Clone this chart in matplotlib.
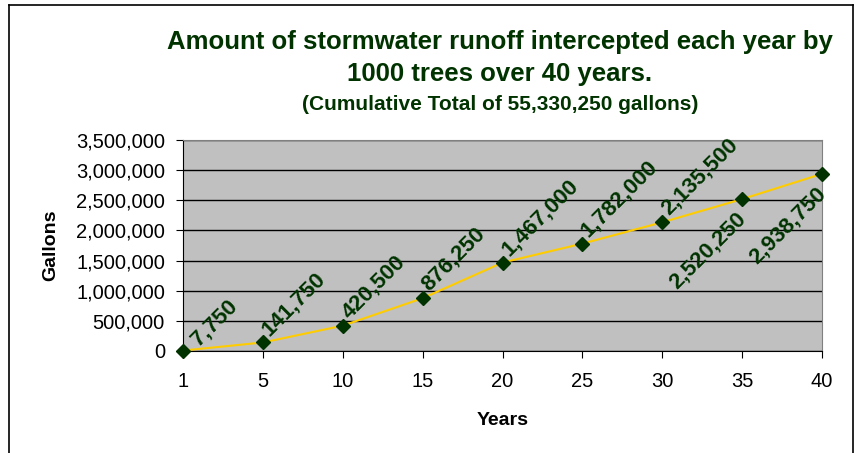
import matplotlib

matplotlib.use("Agg")
import matplotlib.pyplot as plt
from matplotlib.lines import Line2D
from matplotlib.ticker import FuncFormatter, MultipleLocator


YEARS = ["1", "5", "10", "15", "20", "25", "30", "35", "40"]
GALLONS = [7750, 141750, 420500, 876250, 1467000, 1782000, 2135500, 2520250, 2938750]
# labels drawn under the point instead of above it
BELOW = ["35", "40"]

TITLE = "Amount of stormwater runoff intercepted each year by\n1000 trees over 40 years."
SUBTITLE = "(Cumulative Total of 55,330,250 gallons)"
GREEN = "#003300"
FONT = "Liberation Sans"


def main():
    plt.rcParams["font.family"] = FONT

    fig = plt.figure(figsize=(8.59, 4.53), dpi=100)
    ax = fig.add_axes([183 / 859, 1 - 351 / 453, (822 - 183) / 859, (351 - 140) / 453])

    ax.set_facecolor("#c0c0c0")
    xs = list(range(len(YEARS)))
    ax.plot(xs, GALLONS, color="#ffcc00", lw=1.5, zorder=3)
    ax.plot(xs, GALLONS, ls="none", marker="D", ms=7, color=GREEN, zorder=4, clip_on=False)

    for x, year, val in zip(xs, YEARS, GALLONS):
        text = f"{val:,}"
        if year in BELOW:
            ax.annotate(text, (x, val), xytext=(-5, -7), textcoords="offset points",
                        ha="right", va="top", rotation=45, rotation_mode="anchor",
                        fontsize=16, fontweight="bold", color=GREEN, zorder=5)
        else:
            # the first label sits a little further in, as in the original
            dx, dy = (14, 0) if x == 0 else (7, 2)
            ax.annotate(text, (x, val), xytext=(dx, dy), textcoords="offset points",
                        ha="left", va="bottom", rotation=45, rotation_mode="anchor",
                        fontsize=16, fontweight="bold", color=GREEN, zorder=5)

    ax.set_xlim(0, len(YEARS) - 1)
    ax.set_ylim(0, 3500000)
    ax.set_xticks(xs)
    ax.set_xticklabels(YEARS)
    ax.yaxis.set_major_locator(MultipleLocator(500000))
    ax.yaxis.set_major_formatter(FuncFormatter(lambda v, _: f"{int(v):,}"))
    ax.grid(axis="y", color="black", lw=1)
    ax.set_axisbelow(True)

    for side in ["top", "right"]:
        ax.spines[side].set_color("#808080")
    for side in ["left", "bottom"]:
        ax.spines[side].set_color("black")
    ax.tick_params(axis="x", direction="out", length=5, pad=10, labelsize=14.5)
    ax.tick_params(axis="y", direction="out", length=5, pad=8, labelsize=14.5)

    ax.set_xlabel("Years", fontsize=14, fontweight="bold", labelpad=15)
    ax.set_ylabel("Gallons", fontsize=14, fontweight="bold", labelpad=12)

    fig.text(500 / 859, 1 - 58 / 453, TITLE, ha="center", va="center", fontsize=18.5,
             fontweight="bold", color=GREEN, linespacing=1.4)
    fig.text(500 / 859, 1 - 104 / 453, SUBTITLE, ha="center", va="center", fontsize=15,
             fontweight="bold", color=GREEN)

    # outer chart frame, bottom edge is cut off
    left, right, top = 9 / 859, 853 / 859, 1 - 5 / 453
    for xd, yd in [([left, left], [0, top]), ([left, right], [top, top]), ([right, right], [top, 0])]:
        fig.add_artist(Line2D(xd, yd, color="black", lw=1.2, transform=fig.transFigure))

    fig.savefig("out.png", dpi=100)
    plt.close(fig)


if __name__ == "__main__":
    main()
